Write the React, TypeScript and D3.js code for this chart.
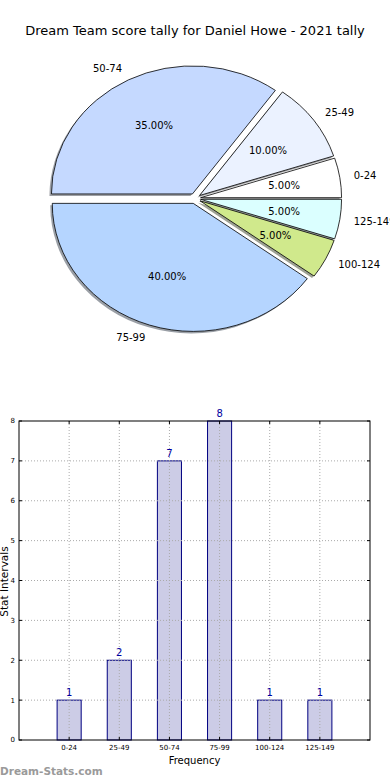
import React, { useEffect, useRef } from "react";
import * as d3 from "d3";

// score intervals and how many games fell in each
const categories = ["0-24", "25-49", "50-74", "75-99", "100-124", "125-149"];
const counts = [1, 2, 7, 8, 1, 1];
const sliceColors = ["#ffffff", "#ebf2ff", "#c5d9ff", "#b5d5ff", "#d0e98c", "#dbffff"];
const yTicks = [0, 1, 2, 3, 4, 5, 6, 7, 8];

const W = 390;
const H = 780;
const FONT = "DejaVu Sans, sans-serif";

export default function App() {
  const ref = useRef<SVGSVGElement>(null);

  useEffect(() => {
    if (!ref.current) return;
    const svg = d3.select(ref.current);
    svg.selectAll("*").remove();

    // Title
    svg
      .append("text")
      .attr("x", 195)
      .attr("y", 34.5)
      .attr("text-anchor", "middle")
      .style("font-family", FONT)
      .style("font-size", "13px")
      .text("Dream Team score tally for Daniel Howe - 2021 tally");

    // ---------- Pie (elliptical, like matplotlib without equal aspect) ----------
    const cx = 195;
    const cy = 198.5;
    const rx = 141;
    const ry = 128;
    const explode = 0.04;
    const total = d3.sum(counts);

    const pie = d3
      .pie<number>()
      .sort(null)
      .startAngle(Math.PI / 2)
      .endAngle(Math.PI / 2 - 2 * Math.PI);
    const arcs = pie(counts);
    const arc = d3.arc<d3.PieArcDatum<number>>().innerRadius(0).outerRadius(1);

    const mid = (d: d3.PieArcDatum<number>) => (d.startAngle + d.endAngle) / 2;
    const offset = (d: d3.PieArcDatum<number>, k: number) => {
      const a = mid(d);
      return [cx + k * rx * Math.sin(a), cy - k * ry * Math.cos(a)];
    };

    const pieG = svg.append("g");

    // shadows first, under every wedge
    arcs.forEach((d, i) => {
      const [ox, oy] = offset(d, explode);
      const c = d3.rgb(sliceColors[i]);
      pieG
        .append("path")
        .attr("d", arc(d))
        .attr("transform", `translate(${ox - 2},${oy + 2}) scale(${rx},${ry})`)
        .attr("fill", d3.rgb(c.r * 0.3, c.g * 0.3, c.b * 0.3).toString())
        .attr("fill-opacity", 0.5)
        .attr("stroke", "none");
    });

    arcs.forEach((d, i) => {
      const [ox, oy] = offset(d, explode);
      pieG
        .append("path")
        .attr("d", arc(d))
        .attr("transform", `translate(${ox},${oy}) scale(${rx},${ry})`)
        .attr("fill", sliceColors[i])
        .attr("stroke", "#000")
        .attr("stroke-width", 0.8)
        .attr("vector-effect", "non-scaling-stroke");
    });

    arcs.forEach((d, i) => {
      const a = mid(d);
      const [lx, ly] = offset(d, explode + 1.1);
      pieG
        .append("text")
        .attr("x", lx)
        .attr("y", ly)
        .attr("dy", "0.35em")
        .attr("text-anchor", Math.sin(a) > 0 ? "start" : "end")
        .style("font-family", FONT)
        .style("font-size", "10px")
        .text(categories[i]);

      const [px, py] = offset(d, explode + 0.6);
      pieG
        .append("text")
        .attr("x", px)
        .attr("y", py)
        .attr("dy", "0.35em")
        .attr("text-anchor", "middle")
        .style("font-family", FONT)
        .style("font-size", "10px")
        .text(((counts[i] / total) * 100).toFixed(2) + "%");
    });

    // ---------- Bar chart ----------
    const left = 19;
    const right = 370;
    const top = 421;
    const bottom = 740;

    const x = d3.scaleLinear().domain([-1, 6]).range([left, right]);
    const y = d3.scaleLinear().domain([0, 8]).range([bottom, top]);
    const barW = 0.48;

    const g = svg.append("g");

    g.selectAll("rect.bar")
      .data(counts)
      .join("rect")
      .attr("class", "bar")
      .attr("x", (_, i) => x(i - barW / 2))
      .attr("y", (d) => y(d))
      .attr("width", x(barW) - x(0))
      .attr("height", (d) => y(0) - y(d))
      .attr("fill", "#ccccE6")
      .attr("stroke", "#000080")
      .attr("stroke-width", 1);

    // dotted grid (drawn above bars)
    g.selectAll("line.gy")
      .data(yTicks.slice(1, -1))
      .join("line")
      .attr("x1", left)
      .attr("x2", right)
      .attr("y1", (d) => y(d))
      .attr("y2", (d) => y(d))
      .attr("stroke", "#aaaaaa")
      .attr("stroke-width", 1)
      .attr("stroke-dasharray", "1,2");

    g.selectAll("line.gx")
      .data(categories)
      .join("line")
      .attr("x1", (_, i) => x(i))
      .attr("x2", (_, i) => x(i))
      .attr("y1", top)
      .attr("y2", bottom)
      .attr("stroke", "#aaaaaa")
      .attr("stroke-width", 1)
      .attr("stroke-dasharray", "1,2");

    // frame
    g.append("rect")
      .attr("x", left)
      .attr("y", top)
      .attr("width", right - left)
      .attr("height", bottom - top)
      .attr("fill", "none")
      .attr("stroke", "#000")
      .attr("stroke-width", 1);

    // ticks
    yTicks.forEach((t) => {
      g.append("line")
        .attr("x1", left).attr("x2", left + 3)
        .attr("y1", y(t)).attr("y2", y(t))
        .attr("stroke", "#000");
      g.append("line")
        .attr("x1", right - 3).attr("x2", right)
        .attr("y1", y(t)).attr("y2", y(t))
        .attr("stroke", "#000");
      g.append("text")
        .attr("x", left - 4)
        .attr("y", y(t))
        .attr("dy", "0.35em")
        .attr("text-anchor", "end")
        .style("font-family", FONT)
        .style("font-size", "7px")
        .text(t);
    });

    categories.forEach((c, i) => {
      g.append("line")
        .attr("x1", x(i)).attr("x2", x(i))
        .attr("y1", bottom).attr("y2", bottom - 3)
        .attr("stroke", "#000");
      g.append("line")
        .attr("x1", x(i)).attr("x2", x(i))
        .attr("y1", top).attr("y2", top + 3)
        .attr("stroke", "#000");
      g.append("text")
        .attr("x", x(i))
        .attr("y", bottom + 8)
        .attr("dy", "0.35em")
        .attr("text-anchor", "middle")
        .style("font-family", FONT)
        .style("font-size", "7px")
        .text(c);
    });

    // value labels
    g.selectAll("text.val")
      .data(counts)
      .join("text")
      .attr("class", "val")
      .attr("x", (_, i) => x(i))
      .attr("y", (d) => y(d) - 4)
      .attr("text-anchor", "middle")
      .attr("fill", "#0000a0")
      .style("font-family", FONT)
      .style("font-size", "10px")
      .text((d) => d);

    // axis labels
    g.append("text")
      .attr("x", (left + right) / 2)
      .attr("y", 764)
      .attr("text-anchor", "middle")
      .style("font-family", FONT)
      .style("font-size", "10px")
      .text("Frequency");

    g.append("text")
      .attr("transform", `translate(7.5,${(top + bottom) / 2 + 1}) rotate(-90)`)
      .attr("text-anchor", "middle")
      .style("font-family", FONT)
      .style("font-size", "10.5px")
      .text("Stat Intervals");

    // watermark
    svg
      .append("text")
      .attr("x", 0)
      .attr("y", 775)
      .attr("fill", "#9a9a9a")
      .style("font-family", FONT)
      .style("font-size", "10.5px")
      .style("font-weight", "bold")
      .text("Dream-Stats.com");
  }, []);

  return (
    <svg
      ref={ref}
      width={W}
      height={H}
      style={{ position: "absolute", left: 0, top: 0, background: "#fff" }}
    />
  );
}
